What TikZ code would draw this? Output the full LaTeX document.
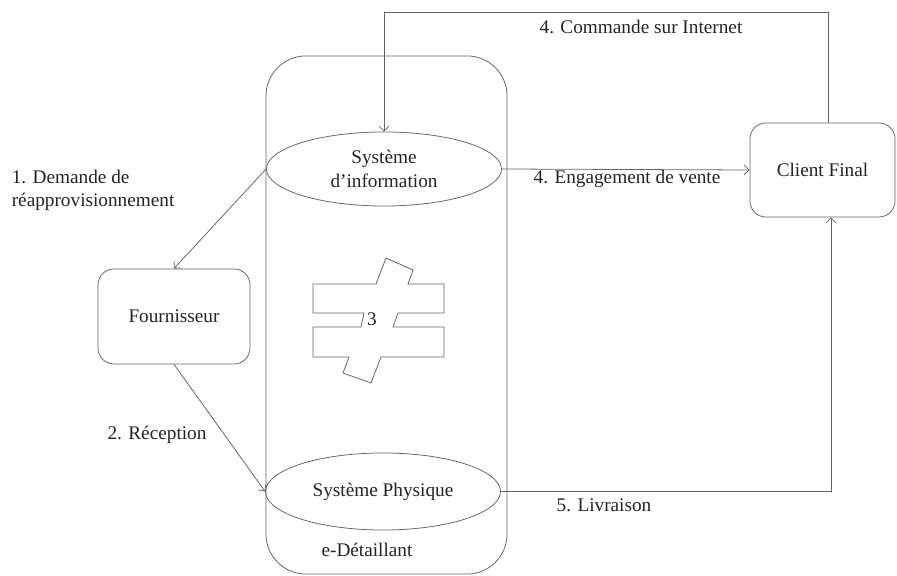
\documentclass[tikz,border=0pt]{standalone}
\usepackage{fontspec}
\setmainfont{Liberation Serif}
\usetikzlibrary{shapes.geometric, arrows.meta}
\definecolor{ink}{RGB}{35,35,35}
\definecolor{edge}{RGB}{100,100,100}

\begin{document}
\begin{tikzpicture}[x=0.025cm, y=-0.025cm, line width=0.55pt]
	\tikzstyle{every node}=[inner sep=1pt, align=center, text=ink, font=\fontsize{13.7}{16.5}\selectfont]
	\tikzstyle{box}=[draw=edge, rounded corners=0.4cm]
	\tikzstyle{sys}=[draw=edge, ellipse, inner sep=0pt, minimum width=5.875cm]
	\tikzstyle{flow}=[draw=edge, -{Straight Barb[length=3.5pt, width=7pt]}]
	\useasboundingbox (0,0) rectangle (897,576);
	% e-retailer
	\node[box, rounded corners=1cm, minimum width=6.025cm, minimum height=12.95cm] (retail) at (386.5,315) {};
	\node[sys, minimum height=1.85cm] (info) at (384,169) {Système\\d’information};
	\node[sys, minimum height=1.925cm] (phys) at (383,491.5) {Système Physique};
	\node (detail) at (367,550) {e-Détaillant};
	% not equal sign
	\draw[edge] (313,284) -- (376,284) -- (386,258) -- (413,270) -- (408,284) -- (444,284) -- (444,313) -- (398,313) -- (393,327) -- (444,327) -- (444,357) -- (381,357) -- (371,383) -- (343,373) -- (349,357) -- (313,357) -- (313,327) -- (361,327) -- (364,313) -- (313,313) -- cycle;
	\node (three) at (372,319) {3};
	% partners
	\node[box, minimum width=3.8cm, minimum height=2.375cm] (fourn) at (174,316.5) {Fournisseur};
	\node[box, minimum width=3.625cm, minimum height=2.35cm] (client) at (822.5,170) {Client Final};
	% flows
	\coordinate (order) at (828,12);
	\coordinate (deliv) at (831,489);
	\draw[flow] (client.north -| order) -- (order) -| (info.north);
	\node (orderlbl) at (641,27) {4. Commande sur Internet};
	\draw[flow] (info.east) -- (client.west);
	\node (salelbl) at (627,179) {4. Engagement de vente};
	\draw[flow] (info.west) -- (fourn.north);
	\node[anchor=west, align=left] (asklbl) at (10,190) {1. Demande de\\réapprovisionnement};
	\draw[flow] (fourn.south) -- (phys.west);
	\node (recvlbl) at (157,435) {2. Réception};
	\draw[flow] (phys.east) -- (phys.east -| deliv) -- (client.south -| deliv);
	\node (delivlbl) at (604,505) {5. Livraison};
\end{tikzpicture}
\end{document}
